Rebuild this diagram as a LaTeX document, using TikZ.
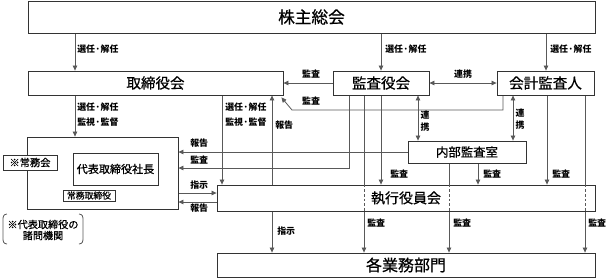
\documentclass[tikz,border=0pt]{standalone}
\usepackage{fontspec}
\newfontfamily\jp{Noto Sans CJK JP}
\newfontfamily\jpm[FakeBold=0.6]{Noto Sans CJK JP}
\usetikzlibrary{arrows.meta,backgrounds}
\begin{document}
\begin{tikzpicture}[x=0.75pt,y=-0.75pt,
  bx/.style={draw=black!80, fill=white, line width=0.6pt, inner sep=0pt},
  sz/.style 2 args={minimum width={#1*0.75pt}, minimum height={#2*0.75pt}},
  ln/.style={draw=black!65, line width=0.6pt},
  arr/.style={ln, -{Triangle[length=3.8pt,width=3.4pt]}},
  darr/.style={ln, {Triangle[length=3.8pt,width=3.4pt]}-{Triangle[length=3.8pt,width=3.4pt]}},
  lab/.style={font=\jp\bfseries\fontsize{6.7}{7.5}\selectfont, inner sep=0pt, anchor=west},
  labc/.style={lab, anchor=center},
  vlab/.style={font=\jp\bfseries\fontsize{6.7}{9}\selectfont, inner sep=0pt, align=center},
  dsh/.style={draw=black!65, line width=0.6pt, dash pattern=on 2pt off 1.5pt},
]
\useasboundingbox (0,0) rectangle (606,279);

% boxes
\node[bx, sz={567}{32}, font=\jpm\fontsize{12.5}{14}\selectfont] (kabu) at (311.5,17) {株主総会};
\node[bx, sz={255}{24}, font=\jpm\fontsize{10.9}{12}\selectfont] (tori) at (155.5,83) {取締役会};
\node[bx, sz={96}{24}, font=\jpm\fontsize{10.9}{12}\selectfont] (kansa) at (381,83) {監査役会};
\node[bx, sz={97}{24}, font=\jpm\fontsize{10.9}{12}\selectfont] (kaikei) at (545.5,83) {会計監査人};
\node[bx, sz={118}{22}, font=\jpm\fontsize{9.3}{11}\selectfont] (naibu) at (467,152) {内部監査室};
\node[bx, sz={151}{72}] (exec) at (102.5,173) {};
\node[bx, sz={54}{15}, font=\jpm\fontsize{7.7}{9}\selectfont] (jmk) at (30,162.5) {※常務会};
\node[bx, sz={85}{32}, font=\jpm\fontsize{8.3}{10}\selectfont] (pres) at (115.5,169) {代表取締役社長};
\node[bx, sz={52}{11}, font=\jpm\fontsize{6.6}{8}\selectfont] (jmt) at (89,195.5) {常務取締役};
\node[bx, sz={378}{26}, font=\jpm\fontsize{10.5}{12}\selectfont] (shikko) at (406,198) {執行役員会};
\node[bx, sz={378}{24}, font=\jpm\fontsize{12}{14}\selectfont] (gyomu) at (406,265) {各業務部門};

% connectors
\begin{scope}[on background layer]
\draw[arr] (kabu.south -| 75,0) -- (tori.north -| 75,0);
\draw[arr] (kabu.south -| 381,0) -- (kansa.north);
\draw[arr] (kabu.south -| 546,0) -- (kaikei.north -| 546,0);
\draw[arr] (kansa.west) -- (tori.east);
\draw[darr] (kansa.east) -- (kaikei.west);
\draw[arr] (kaikei.south -| 503,0) -- (503,110) -- (292,110) -- ([xshift=-1.5pt,yshift=-1.5pt]tori.south east);
\draw[arr] (tori.south -| 75,0) -- (exec.north -| 75,0);
\draw[arr] (tori.south -| 222,0) -- (shikko.north -| 222,0);
\draw[arr] (shikko.north -| 272,0) -- (tori.south -| 272,0);
\draw[arr] (kansa.south -| 349,0) -- (349,168) -- (exec.east |- 0,168);
\draw[arr] (kansa.south -| 364,0) -- (gyomu.north -| 364,0);
\draw[arr] (kansa.south -| 381,0) -- (shikko.north -| 381,0);
\draw[darr] (kansa.south -| 418,0) -- (naibu.north -| 418,0);
\draw[darr] (kaikei.south -| 513,0) -- (naibu.north -| 513,0);
\draw[arr] (kaikei.south -| 547,0) -- (shikko.north -| 547,0);
\draw[arr] (kaikei.south -| 585,0) -- (gyomu.north -| 585,0);
\draw[arr] (naibu.west) -- (exec.east |- naibu.west);
\draw[arr] (naibu.south -| 449,0) -- (gyomu.north -| 449,0);
\draw[arr] (naibu.south -| 478,0) -- (shikko.north -| 478,0);
\draw[arr] (exec.east |- 0,193) -- (shikko.west |- 0,193);
\draw[arr] (shikko.west |- 0,202) -- (exec.east |- 0,202);
\draw[arr] (shikko.south -| 272,0) -- (gyomu.north -| 272,0);
\draw[ln] (jmt.east) -- (jmt.east -| 146,0) -- (pres.south -| 146,0);
\end{scope}

% dashed pass-through lines in 執行役員会
\foreach \xx in {364,449,585}
  \draw[dsh] (shikko.north -| \xx,0) -- (shikko.south -| \xx,0);

% labels
\node[lab] (a1) at (77,49) {選任·解任};
\node[lab] (a2) at (385,49) {選任·解任};
\node[lab] (a3) at (550,49) {選任·解任};
\node[labc] (b1) at (311,74) {監査};
\node[labc] (b2) at (463,74) {連携};
\node[labc] (b3) at (311,101) {監査};
\node[lab] (c1) at (77,107) {選任·解任};
\node[lab] (c2) at (77,122) {監視·監督};
\node[lab] (c3) at (225,107) {選任·解任};
\node[lab] (c4) at (225,122) {監視·監督};
\node[lab] (c5) at (275,125) {報告};
\node[vlab] (v1) at (425,121) {連\\携};
\node[vlab] (v2) at (520,119) {連\\携};
\node[lab] (d1) at (190,143) {報告};
\node[lab] (d2) at (190,160) {監査};
\node[lab] (d3) at (190,185) {指示};
\node[lab] (d4) at (190,208) {報告};
\node[lab] (e1) at (390,174) {監査};
\node[lab] (e2) at (483,174) {監査};
\node[lab] (e3) at (552,174) {監査};
\node[lab] (f1) at (277,231) {指示};
\node[lab] (g1) at (367,223) {監査};
\node[lab] (g2) at (453,223) {監査};
\node[lab] (g3) at (588,223) {監査};

% note with brackets
\node[font=\jpm\fontsize{7.6}{8.25}\selectfont, align=center, inner sep=0pt] (note) at (43,230) {※代表取締役の\\諸問機関};
\draw[ln] (7,214) .. controls (3.5,214.5) and (3,216) .. (3,220) -- (3,238) .. controls (3,242) and (3.5,243.5) .. (7,244);
\draw[ln] (79,214) .. controls (82.5,214.5) and (83,216) .. (83,220) -- (83,238) .. controls (83,242) and (82.5,243.5) .. (79,244);
\end{tikzpicture}
\end{document}
